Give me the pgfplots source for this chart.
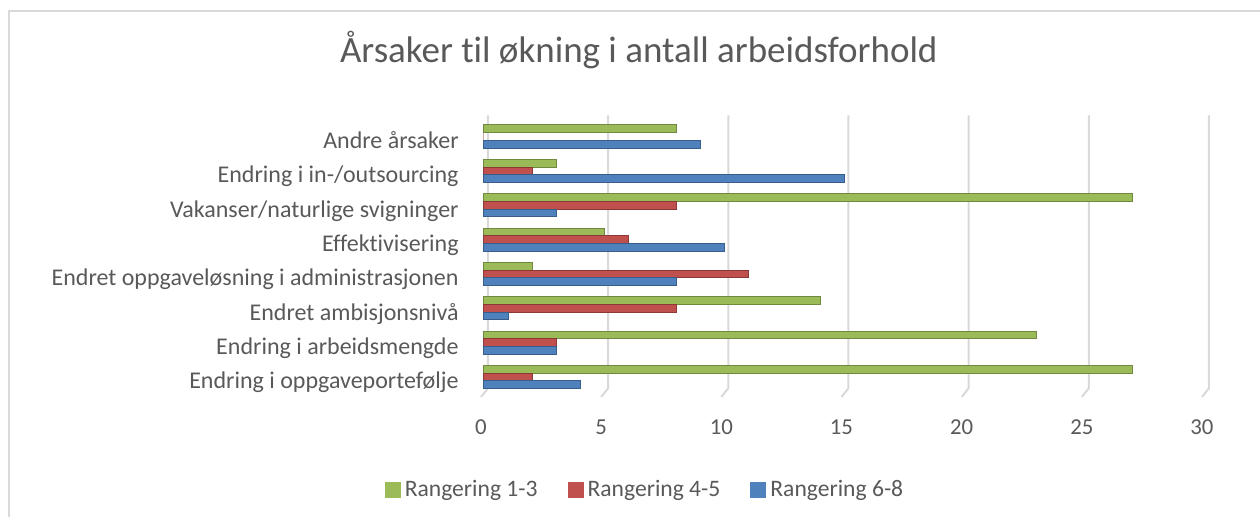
\documentclass[border=0pt]{standalone}
\usepackage{fontspec}
\setmainfont{Carlito}[Ligatures=NoCommon]
\usepackage{pgfplots}
\pgfplotsset{compat=1.18}
\definecolor{cg}{HTML}{9BBB59}
\definecolor{cgd}{HTML}{71893F}
\definecolor{cr}{HTML}{C0504D}
\definecolor{crd}{HTML}{8C3836}
\definecolor{cb}{HTML}{4F81BD}
\definecolor{cbd}{HTML}{385D8A}
\definecolor{txt}{HTML}{595959}
\definecolor{gridc}{HTML}{D9D9D9}
\begin{document}
\begin{tikzpicture}
\useasboundingbox (-242pt,-61.4pt) rectangle (388pt,197.1pt);
\draw[gridc, line width=0.8pt] (-237.5pt,-70pt) -- (-237.5pt,191.6pt) -- (400pt,191.6pt);
\node[font=\fontsize{18.5}{22}\selectfont, text=txt, anchor=base] at (77.4pt,165.6pt) {Årsaker til økning i antall arbeidsforhold};
\begin{axis}[
  at={(0pt,0pt)}, anchor=south west,
  scale only axis, width=360.5pt, height=137.45pt,
  xmin=0, xmax=30, ymin=-0.5, ymax=7.5,
  xbar, bar width=3.85pt,
  axis line style={draw=none},
  major tick length=0pt,
  clip=false,
  xtick={0,5,10,15,20,25,30},
  ytick={0,1,2,3,4,5,6,7},
  yticklabels={Endring i oppgaveportefølje,Endring i arbeidsmengde\hspace{0.23em},Endret ambisjonsnivå,Endret oppgaveløsning i administrasjonen\hspace{0.23em},Effektivisering\hspace{0.23em},Vakanser/naturlige svigninger,Endring i in-/outsourcing,Andre årsaker\hspace{0.23em}},
  /pgf/number format/assume math mode=true,
  xticklabel style={font=\fontsize{11.4}{13}\selectfont, text=txt, anchor=north, inner sep=0pt, yshift=-12.4pt, xshift=-1.5pt},
  yticklabel style={font=\fontsize{12}{14}\selectfont, text=txt, anchor=base east, inner sep=0pt, xshift=-12.5pt, yshift=-5.9pt},
  legend columns=3,
  legend style={at={(0.2247,-0.3474)}, anchor=center, draw=none, fill=none,
    font=\fontsize{11.8}{13}\selectfont, text=txt,
    /tikz/every even column/.append style={column sep=13pt}},
  legend image code/.code={\fill[#1,draw=none] (-1pt,-4pt) rectangle (7pt,4pt);},
]
\pgfplotsinvokeforeach{0,5,10,15,20,25,30}{
  \draw[gridc, line width=1pt]
    ([shift={(2pt,2pt)}]axis cs:#1,7.5) -- ([shift={(2pt,3pt)}]axis cs:#1,-0.5) -- ([shift={(-1.5pt,-1.4pt)}]axis cs:#1,-0.5);
}
\addplot[fill=cg, draw=cgd, line width=0.5pt, bar shift=3.85pt] coordinates {(27,0) (23,1) (14,2) (2,3) (5,4) (27,5) (3,6) (8,7)};
\addplot[fill=cr, draw=crd, line width=0.5pt, bar shift=0pt] coordinates {(2,0) (3,1) (8,2) (11,3) (6,4) (8,5) (2,6) (0,7)};
\addplot[fill=cb, draw=cbd, line width=0.5pt, bar shift=-3.85pt] coordinates {(4,0) (3,1) (1,2) (8,3) (10,4) (3,5) (15,6) (9,7)};
\legend{Rangering 1-3,Rangering 4-5,Rangering 6-8}
\end{axis}
\end{tikzpicture}
\end{document}
